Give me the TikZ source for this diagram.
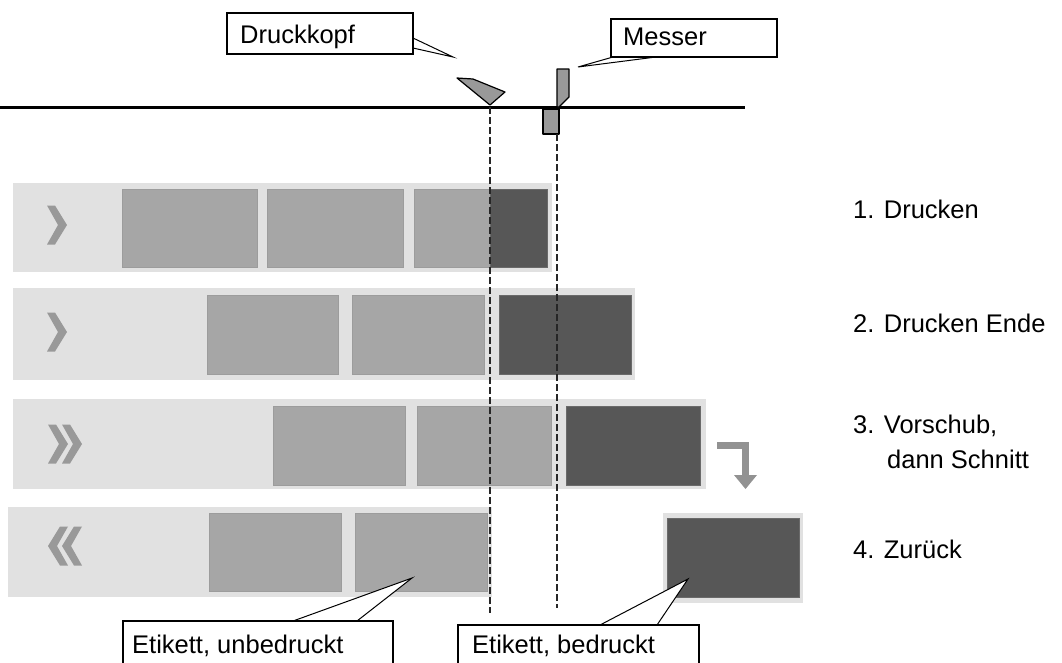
\documentclass[tikz,border=0pt]{standalone}
\usepackage{fontspec}
\setmainfont{Liberation Sans}
\definecolor{bgc}{HTML}{E1E1E1}
\definecolor{labc}{HTML}{A6A6A6}
\definecolor{labb}{HTML}{9C9C9C}
\definecolor{darkc}{HTML}{575757}
\definecolor{darkb}{HTML}{6A6A6A}
\definecolor{chevc}{HTML}{999999}
\definecolor{arrc}{HTML}{929292}
\definecolor{toolc}{HTML}{999999}
\begin{document}
\begin{tikzpicture}[x=1pt,y=-1pt,
  bg/.style={fill=bgc},
  lab/.style={fill=labc, draw=labb, line width=0.6pt},
  dlab/.style={fill=darkc, draw=darkb, line width=0.6pt},
  txt/.style={anchor=base west, inner sep=0pt, font=\fontsize{25.5}{30}\selectfont},
  callbox/.style={draw=black, line width=1.3pt, fill=white, inner sep=0pt},
  wedge/.style={draw=black, line width=1pt, fill=white, line join=miter},
  cutline/.style={dash pattern=on 7pt off 3pt, line width=1.1pt, draw=black!85},
  tool/.style={fill=toolc, draw=black, line width=1.2pt, line join=round},
  chevr/.pic={\fill[chevc] (-10,-19.5) -- (-2,-19.5) -- (10,0) -- (-2,19.5) -- (-10,19.5) -- (1,0) -- cycle;}
]
\useasboundingbox (0,0) rectangle (1062,662);
\clip (0,0) rectangle (1062,662);
\fill[white] (0,0) rectangle (1062,662);

% ---- row 1
\fill[bg] (13,183) rectangle (552,272);
\path[lab] (122,189) rectangle (257,267);
\path[lab] (267,189) rectangle (403,267);
\path[lab] (414,189) rectangle (547,267);
\path[dlab] (490,189) rectangle (547,267);
\pic at (57,225) {chevr};

% ---- row 2
\fill[bg] (13,288) rectangle (635,380);
\path[lab] (207,295) rectangle (338,374);
\path[lab] (352,295) rectangle (484,374);
\path[dlab] (499,295) rectangle (631,374);
\pic at (57,332) {chevr};

% ---- row 3
\fill[bg] (13,399) rectangle (706,489);
\path[lab] (273,406) rectangle (405,485);
\path[lab] (417,406) rectangle (551,485);
\path[dlab] (566,406) rectangle (700,485);
\pic at (58,444) {chevr};
\pic at (72,444) {chevr};

% turn-down arrow
\draw[arrc, line width=7pt, line join=miter] (717,445.5) -- (745.5,445.5) -- (745.5,477);
\fill[arrc] (734,475) -- (757,475) -- (745.5,489) -- cycle;

% ---- row 4
\fill[bg] (8,507) rectangle (492,597);
\path[lab] (209,513) rectangle (341,591);
\path[lab] (355,513) rectangle (487,591);
\pic[xscale=-1] at (58,546) {chevr};
\pic[xscale=-1] at (72,546) {chevr};
\fill[bg] (663,513) rectangle (803,603);
\path[dlab] (667,518) rectangle (799,597);

% ---- web line, print head, knife
\draw[line width=3pt] (0,107) -- (745,107);
\draw[tool] (457,78) -- (473,79) -- (505,92) -- (490,105) -- cycle;
\draw[tool] (557,69) -- (569,69) -- (569,97) -- (559,107) -- (557,107) -- cycle;
\draw[tool] (543,109) -- (559,109) -- (559,134) -- (543,134) -- cycle;

% dashed reference lines
\coordinate (headtop) at (490,107);
\coordinate (headbot) at (490,613);
\coordinate (knifetop) at (557,134);
\coordinate (knifebot) at (557,608);
\draw[cutline] (headtop) -- (headbot);
\draw[cutline] (knifetop) -- (knifebot);

% ---- callouts
\coordinate (dktip) at (453,57);
\filldraw[wedge] (413,38) -- (dktip) -- (413,48);
\node[callbox, minimum width=186pt, minimum height=41pt] (dkbox) at (320,33.5) {};
\node[txt] (dktext) at (240,43) {Druckkopf};

\coordinate (mstip) at (578,67);
\filldraw[wedge] (613,57) -- (mstip) -- (656,57);
\node[callbox, minimum width=166pt, minimum height=38pt] (msbox) at (694,38) {};
\node[txt] (mstext) at (623,45) {Messer};

\coordinate (ubtip) at (412,578);
\filldraw[wedge] (293,621) -- (ubtip) -- (357,621);
\node[callbox, minimum width=270pt, minimum height=60pt] (ubbox) at (258,651) {};
\node[txt] (ubtext) at (132,653) {Etikett, unbedruckt};

\coordinate (bdtip) at (688,579);
\filldraw[wedge] (600,625) -- (bdtip) -- (657,625);
\node[callbox, minimum width=241pt, minimum height=60pt] (bdbox) at (578.5,655) {};
\node[txt] (bdtext) at (472,653) {Etikett, bedruckt};

% ---- step labels
\node[txt] (s1) at (853,218) {1. Drucken};
\node[txt] (s2) at (853,332) {2. Drucken Ende};
\node[txt] (s3) at (853,433) {3. Vorschub,};
\node[txt] (s3b) at (887,468) {dann Schnitt};
\node[txt] (s4) at (853,558) {4. Zurück};
\end{tikzpicture}
\end{document}
